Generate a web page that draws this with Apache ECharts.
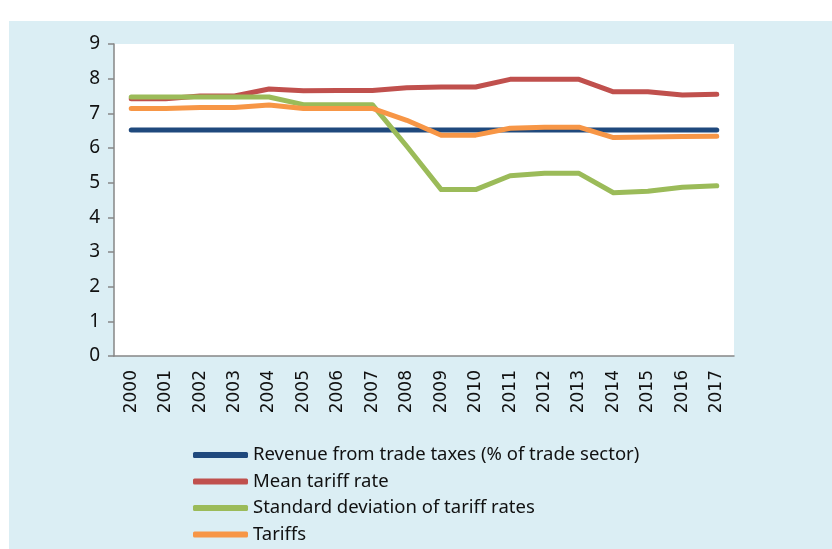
<!DOCTYPE html>
<html>
<head>
<meta charset="utf-8">
<script src="https://cdn.jsdelivr.net/npm/echarts@6/dist/echarts.min.js"></script>
<style>
  html, body { margin: 0; padding: 0; background: #fff; }
  #container { width: 832px; height: 549px; }
</style>
</head>
<body>
<div id="container"></div>
<script>
var years = ['2000','2001','2002','2003','2004','2005','2006','2007','2008','2009','2010','2011','2012','2013','2014','2015','2016','2017'];
var revenue = [6.52,6.52,6.52,6.52,6.52,6.52,6.52,6.52,6.52,6.52,6.52,6.52,6.52,6.52,6.52,6.52,6.52,6.52];
var meanTariff = [7.42,7.42,7.5,7.5,7.7,7.65,7.66,7.66,7.74,7.76,7.76,7.98,7.98,7.98,7.62,7.62,7.53,7.55];
var stdTariff = [7.47,7.47,7.47,7.47,7.47,7.25,7.25,7.25,6.05,4.8,4.8,5.2,5.27,5.27,4.71,4.75,4.87,4.91];
var tariffs = [7.14,7.14,7.17,7.17,7.24,7.14,7.14,7.14,6.8,6.37,6.37,6.57,6.6,6.6,6.3,6.32,6.33,6.34];
var yTicks = [0,1,2,3,4,5,6,7,8,9];

var names = ['Revenue from trade taxes (% of trade sector)', 'Mean tariff rate', 'Standard deviation of tariff rates', 'Tariffs'];
var colors = ['#1F497D', '#C0504D', '#9BBB59', '#F79646'];
var values = [revenue, meanTariff, stdTariff, tariffs];

var option = {
  animation: false,
  backgroundColor: '#ffffff',
  color: colors,
  graphic: [{
    type: 'rect',
    z: -10,
    shape: { x: 9, y: 21, width: 823, height: 528 },
    style: { fill: '#DBEEF4' }
  }],
  grid: {
    left: 114,
    top: 44,
    right: 98,
    bottom: 193,
    show: true,
    backgroundColor: '#ffffff',
    borderWidth: 0
  },
  legend: {
    orient: 'vertical',
    left: 188,
    top: 440,
    height: 120,
    itemWidth: 55,
    itemHeight: 6,
    itemGap: 6.5,
    icon: 'roundRect',
    data: names,
    textStyle: {
      color: '#111',
      fontFamily: 'Noto Sans',
      fontSize: 18.5,
      lineHeight: 20
    }
  },
  xAxis: {
    type: 'category',
    data: years,
    boundaryGap: true,
    axisLine: { lineStyle: { color: '#868686', width: 1.5 } },
    axisTick: { length: 6, lineStyle: { color: '#868686', width: 1.5 } },
    axisLabel: {
      rotate: 90,
      margin: 14,
      color: '#111',
      fontFamily: 'DejaVu Sans',
      fontSize: 17,
      interval: 0
    }
  },
  yAxis: {
    type: 'value',
    min: yTicks[0],
    max: yTicks[yTicks.length - 1],
    interval: 1,
    splitLine: { show: false },
    axisLine: { show: true, lineStyle: { color: '#868686', width: 1.5 } },
    axisTick: { show: true, length: 6, lineStyle: { color: '#868686', width: 1.5 } },
    axisLabel: {
      margin: 14,
      color: '#111',
      fontFamily: 'Noto Sans',
      fontSize: 19
    }
  },
  series: names.map(function (n, i) {
    return {
      name: n,
      type: 'line',
      data: values[i],
      symbol: 'none',
      lineStyle: { width: 5, color: colors[i], cap: 'round', join: 'round' },
      itemStyle: { color: colors[i] }
    };
  })
};

var myChart = echarts.init(document.getElementById('container'), null, { renderer: 'canvas' });
myChart.setOption(option);
</script>
</body>
</html>
